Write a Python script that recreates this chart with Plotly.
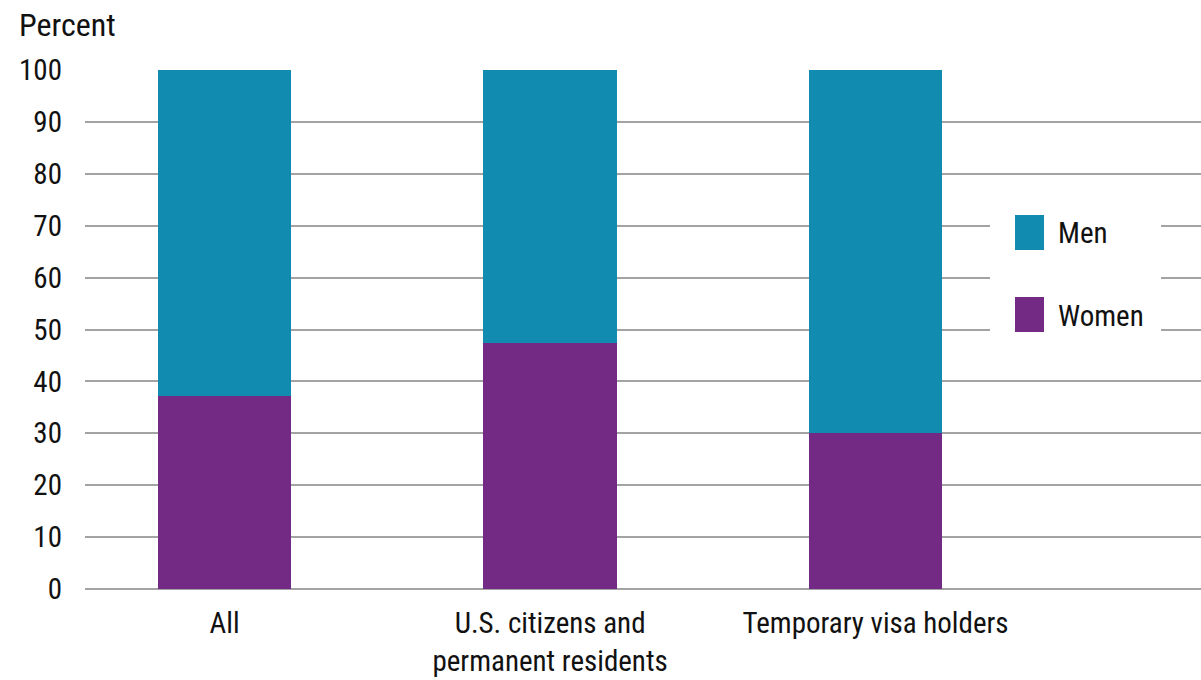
import plotly.graph_objects as go

categories = ["All", "U.S. citizens and<br>permanent residents", "Temporary visa holders"]
women = [37.2, 47.4, 30.0]
men = [62.8, 52.6, 70.0]
series_names = ["Men", "Women"]
y_ticks = list(range(0, 101, 10))

MEN_C = "#128BB0"
WOMEN_C = "#722A85"
FONT = "Roboto Condensed, Liberation Sans Narrow, sans-serif"
FS = 29

fig = go.Figure()
fig.add_bar(x=categories, y=women, name="Women", marker=dict(color=WOMEN_C, line=dict(width=0)), width=0.41)
fig.add_bar(x=categories, y=men, name="Men", marker=dict(color=MEN_C, line=dict(width=0)), width=0.41)

W, H = 1201, 680
L, R, T, B = 85, 0, 70, 91
pw, ph = W - L - R, H - T - B

def px(x):
    return (x - L) / pw

def py(y):
    return (H - B - y) / ph

shapes = [
    dict(type="rect", xref="paper", yref="paper", x0=px(990), x1=px(1161), y0=py(352), y1=py(195),
         fillcolor="white", line=dict(width=0), layer="above"),
    dict(type="rect", xref="paper", yref="paper", x0=px(1015), x1=px(1044), y0=py(250), y1=py(215),
         fillcolor=MEN_C, line=dict(width=0), layer="above"),
    dict(type="rect", xref="paper", yref="paper", x0=px(1015), x1=px(1044), y0=py(332), y1=py(297),
         fillcolor=WOMEN_C, line=dict(width=0), layer="above"),
]
annotations = [
    dict(text=series_names[0], xref="paper", yref="paper", x=px(1056), y=py(233), xanchor="left", yanchor="middle",
         showarrow=False, font=dict(size=FS, color="#111", family=FONT)),
    dict(text=series_names[1], xref="paper", yref="paper", x=px(1056), y=py(316), xanchor="left", yanchor="middle",
         showarrow=False, font=dict(size=FS, color="#111", family=FONT)),
    dict(text="Percent", xref="paper", yref="paper", x=px(17), y=py(25), xanchor="left", yanchor="middle",
         showarrow=False, font=dict(size=32, color="#111", family=FONT)),
]

fig.update_layout(
    barmode="stack",
    width=W, height=H,
    margin=dict(l=L, r=R, t=T, b=B),
    paper_bgcolor="white", plot_bgcolor="white",
    showlegend=False,
    font=dict(family=FONT, size=FS, color="#111"),
    shapes=shapes,
    annotations=annotations,
    xaxis=dict(range=[-0.429, 3.0], showgrid=False, showline=False, ticks="", ticklabelstandoff=14,
               tickfont=dict(size=FS, family=FONT, color="#111")),
    yaxis=dict(range=[0, 100], tickvals=y_ticks, showgrid=True, gridcolor="#A3A3A3", gridwidth=2,
               zeroline=True, zerolinecolor="#A3A3A3", zerolinewidth=2, showline=False, ticks="",
               ticklabelstandoff=22, tickfont=dict(size=FS, family=FONT, color="#111")),
)

fig.write_html("out.html")
